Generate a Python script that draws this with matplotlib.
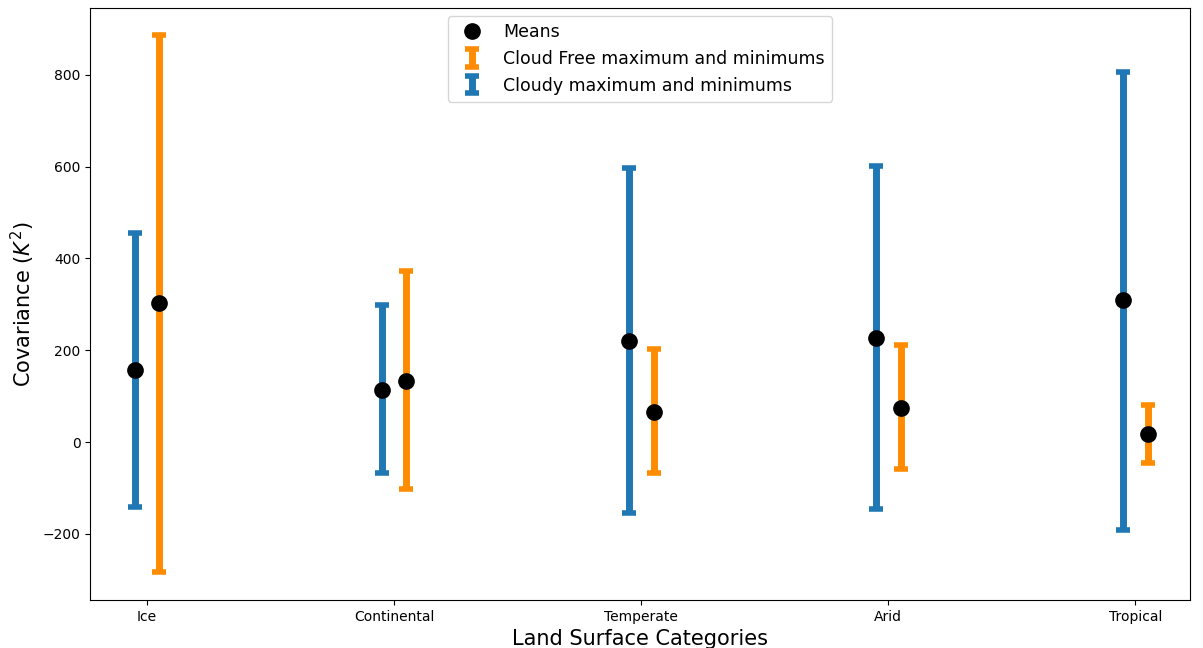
import matplotlib
matplotlib.use("Agg")
import matplotlib.pyplot as plt
import numpy as np

# Land surface categories
categories = ["Ice", "Continental", "Temperate", "Arid", "Tropical"]

# Cloudy covariance (K^2): mean, max, min
cloudy_mean = [157, 113, 220, 227, 310]
cloudy_max = [455, 299, 597, 602, 807]
cloudy_min = [-142, -68, -155, -146, -192]

# Cloud free covariance (K^2): mean, max, min
clear_mean = [303, 133, 65, 74, 17]
clear_max = [887, 373, 203, 211, 81]
clear_min = [-283, -102, -68, -59, -46]

x = np.arange(len(categories))
off = 0.05

fig = plt.figure(figsize=(12.03, 6.48), dpi=100)
ax = fig.add_axes([0.075, 0.074, 0.914, 0.914])

c_mean = np.array(cloudy_mean)
f_mean = np.array(clear_mean)
cloudy_err = [c_mean - np.array(cloudy_min), np.array(cloudy_max) - c_mean]
clear_err = [f_mean - np.array(clear_min), np.array(clear_max) - f_mean]

eb_cloudy = ax.errorbar(x - off, c_mean, yerr=cloudy_err, fmt="none", ecolor="tab:blue",
                        elinewidth=5, capsize=5, capthick=4,
                        label="Cloudy maximum and minimums")
eb_clear = ax.errorbar(x + off, f_mean, yerr=clear_err, fmt="none", ecolor="darkorange",
                       elinewidth=5, capsize=5, capthick=4,
                       label="Cloud Free maximum and minimums")
means, = ax.plot(np.concatenate([x - off, x + off]), np.concatenate([c_mean, f_mean]),
                 "o", color="black", markersize=11, linestyle="none", label="Means", zorder=5)

ax.set_xticks(x)
ax.set_xticklabels(categories)
ax.set_xlim(-0.23, 4.22)
ax.set_ylim(-344, 946)
ax.set_xlabel("Land Surface Categories", fontsize=15)
ax.set_ylabel("Covariance ($K^2$)", fontsize=15)
ax.legend(handles=[means, eb_clear, eb_cloudy], loc="upper center", fontsize=12.5)

fig.savefig("out.png", dpi=100)
